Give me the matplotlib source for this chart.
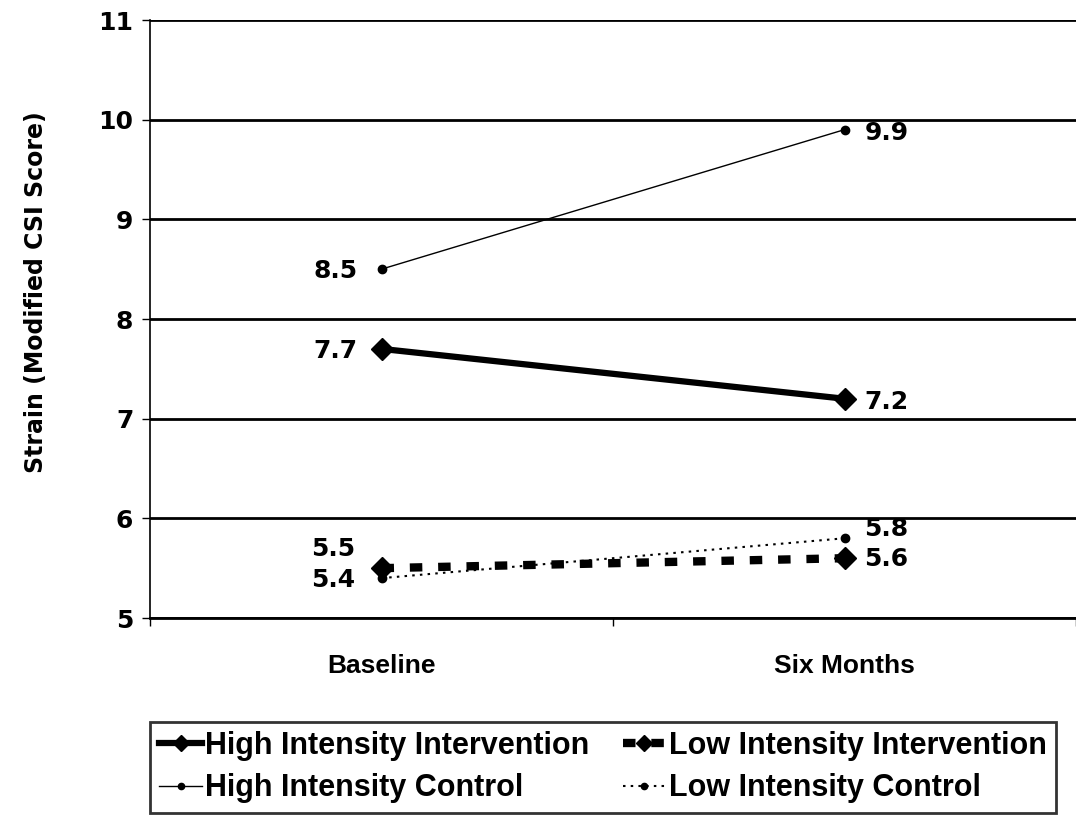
import matplotlib
matplotlib.use('Agg')
import matplotlib.pyplot as plt

plt.rcParams['font.family'] = ['Liberation Sans', 'DejaVu Sans']
plt.rcParams['font.weight'] = 'bold'

categories = ['Baseline', 'Six Months']
high_int = [7.7, 7.2]
low_int = [5.5, 5.6]
high_ctl = [8.5, 9.9]
low_ctl = [5.4, 5.8]

W, H = 1076, 817
fig = plt.figure(figsize=(W / 100, H / 100), dpi=100)
ax = fig.add_axes([150 / W, 199 / H, 1 - 150 / W, 598 / H])

x = [0, 1]
h1, = ax.plot(x, high_int, color='black', lw=4.5, marker='D', ms=11,
              label='High Intensity Intervention')
h2, = ax.plot(x, low_int, color='black', lw=6, ls=(0, (1.5, 1.9)), marker='D', ms=11,
              label='Low Intensity Intervention')
h3, = ax.plot(x, high_ctl, color='black', lw=1, marker='o', ms=6,
              label='High Intensity Control')
h4, = ax.plot(x, low_ctl, color='black', lw=1.5, ls=(0, (1.2, 2.5)), marker='o', ms=6,
              label='Low Intensity Control')

num_font = dict(fontsize=18, family='DejaVu Sans', fontweight='bold')


def label(xv, yv, dx, dy):
    ax.annotate('%.1f' % yv, (xv, yv), xytext=(dx, dy), textcoords='offset pixels',
                ha='right' if dx < 0 else 'left', va='center', **num_font)


label(x[0], high_ctl[0], -24, -2)
label(x[1], high_ctl[1], 20, -3)
label(x[0], high_int[0], -24, -2)
label(x[1], high_int[1], 20, -3)
label(x[0], low_int[0], -26, 19)
label(x[0], low_ctl[0], -26, -2)
label(x[1], low_ctl[1], 20, 9)
label(x[1], low_int[1], 20, -1)

ax.set_ylim(5, 11)
ax.set_xlim(-0.5, -0.5 + 926 / 469)
ax.set_yticks(range(5, 12))
ax.yaxis.grid(True, color='black', lw=2)
ax.set_axisbelow(True)
ax.set_xticks(x)
ax.set_xticklabels(categories, fontsize=19)
ax.set_xticks([-0.5, 0.5, 1.5], minor=True)
ax.tick_params(axis='x', which='major', length=0, pad=26)
ax.tick_params(axis='x', which='minor', length=6, width=1)
ax.tick_params(axis='y', length=6, width=1, pad=6)
for t in ax.get_yticklabels():
    t.set_fontproperties(matplotlib.font_manager.FontProperties(family='DejaVu Sans',
                                                                weight='bold', size=18))
for s in ['top', 'right']:
    ax.spines[s].set_visible(False)
ax.spines['bottom'].set_linewidth(2)
ax.spines['left'].set_linewidth(1.2)
ax.set_ylabel('Strain (Modified CSI Score)', fontsize=17, family='DejaVu Sans',
              fontweight='bold')
ax.yaxis.set_label_coords(-102 / 926, 0.545)

# legend fills row by row in the original
order = [h1, h3, h2, h4]
leg = fig.legend(order, [h.get_label() for h in order],
                 loc='upper left', bbox_to_anchor=(150 / W, 1 - 722 / H),
                 ncol=2, prop=dict(size=22, weight='bold'),
                 frameon=True, fancybox=False, edgecolor='black',
                 handlelength=1.4, handletextpad=0.1, columnspacing=1.1,
                 borderpad=0.3, borderaxespad=0, labelspacing=0.4, markerscale=0.75)
leg.get_frame().set_linewidth(2)

fig.savefig('out.png', dpi=100)
